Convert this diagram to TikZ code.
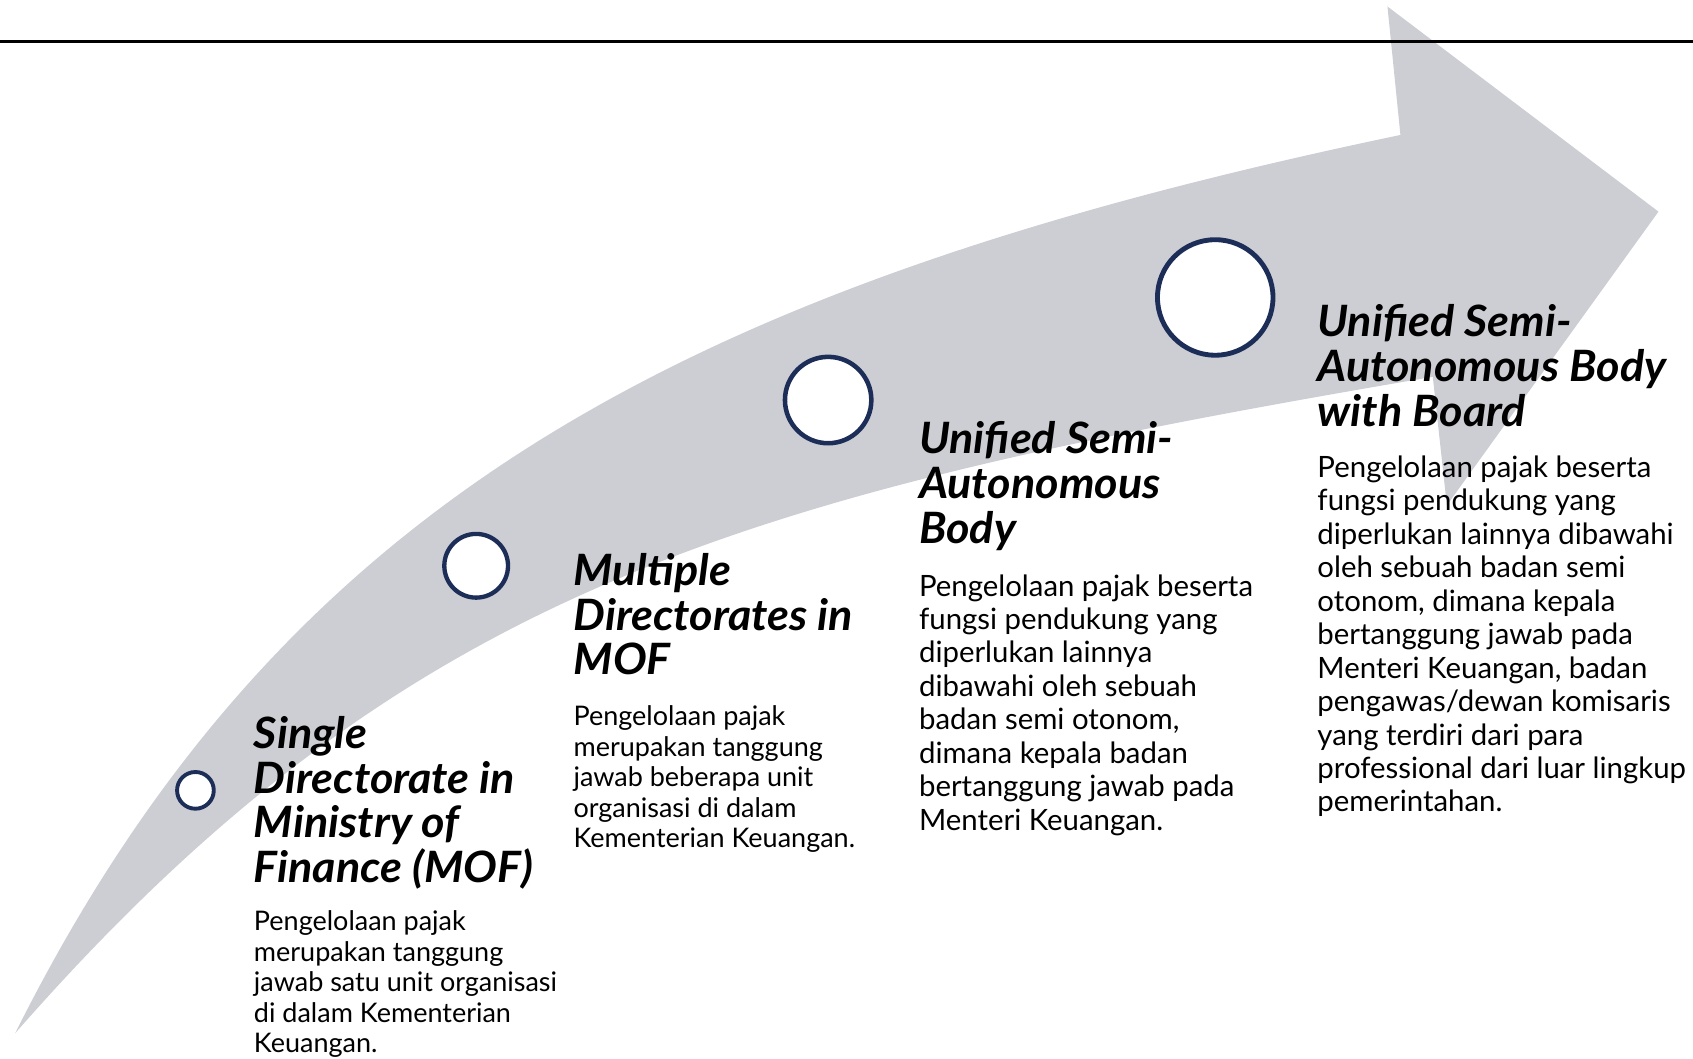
\documentclass[tikz,border=0pt]{standalone}
\usepackage{fontspec}
\setmainfont{Lato}
\newfontfamily\headfont[FakeStretch=1.04]{Lato}
\definecolor{arrowgray}{RGB}{205,206,211}
\definecolor{navy}{RGB}{28,45,88}
\newcommand\stack[2]{\vtop{\baselineskip=#1\relax\lineskiplimit=-100pt\lineskip=0pt #2}}
\begin{document}
\begin{tikzpicture}[x=1pt,y=-1pt,
  stage/.style={circle, draw=navy, fill=white, inner sep=0pt},
  head/.style={anchor=base west, inner sep=0pt, font=\headfont\bfseries\itshape\fontsize{40}{41.5}\selectfont},
  bodysmall/.style={anchor=base west, inner sep=0pt, font=\fontsize{25}{28.3}\selectfont},
  bodylarge/.style={anchor=base west, inner sep=0pt, font=\fontsize{27.2}{31}\selectfont},
]
\useasboundingbox (0,0) rectangle (1568,980);
% arrow
\fill[arrowgray] (14,957) .. controls (260,465) and (632,264) .. (1297,125)
  -- (1285,6) -- (1536,196) -- (1340,468) -- (1327,349)
  .. controls (686,458) and (376.5,543.4) .. (14,957) -- cycle;
% top rule
\draw[line width=2.6pt] (0,38.5) -- (1568,38.5);
% stage circles
\node[stage, line width=3.6pt, minimum size=34pt] (c1) at (181,732) {};
\node[stage, line width=4pt, minimum size=59pt] (c2) at (441,524) {};
\node[stage, line width=4.2pt, minimum size=80pt] (c3) at (767,370.5) {};
\node[stage, line width=4.5pt, minimum size=107pt] (c4) at (1125.5,275.5) {};
% headings
\node[head] (h1) at (235,693) {\stack{41.5pt}{\hbox{Single}\hbox{Directorate in}\hbox{Ministry of}\hbox{Finance (MOF)}}};
\node[head] (h2) at (531,542) {\stack{41.5pt}{\hbox{Multiple}\hbox{Directorates in}\hbox{MOF}}};
\node[head] (h3) at (851,420) {\stack{41.5pt}{\hbox{Unified Semi-}\hbox{Autonomous}\hbox{Body}}};
\node[head] (h4) at (1220,312) {\stack{41.5pt}{\hbox{Unified Semi-}\hbox{Autonomous Body}\hbox{with Board}}};
% bodies
\node[bodysmall] (b1) at (235,862) {\stack{28.3pt}{\hbox{Pengelolaan pajak}\hbox{merupakan tanggung}\hbox{jawab satu unit organisasi}\hbox{di dalam Kementerian}\hbox{Keuangan.}}};
\node[bodysmall] (b2) at (531,672) {\stack{28.3pt}{\hbox{Pengelolaan pajak}\hbox{merupakan tanggung}\hbox{jawab beberapa unit}\hbox{organisasi di dalam}\hbox{Kementerian Keuangan.}}};
\node[bodylarge] (b3) at (851,552) {\stack{31pt}{\hbox{Pengelolaan pajak beserta}\hbox{fungsi pendukung yang}\hbox{diperlukan lainnya}\hbox{dibawahi oleh sebuah}\hbox{badan semi otonom,}\hbox{dimana kepala badan}\hbox{bertanggung jawab pada}\hbox{Menteri Keuangan.}}};
\node[bodylarge] (b4) at (1220,442) {\stack{31pt}{\hbox{Pengelolaan pajak beserta}\hbox{fungsi pendukung yang}\hbox{diperlukan lainnya dibawahi}\hbox{oleh sebuah badan semi}\hbox{otonom, dimana kepala}\hbox{bertanggung jawab pada}\hbox{Menteri Keuangan, badan}\hbox{pengawas/dewan komisaris}\hbox{yang terdiri dari para}\hbox{professional dari luar lingkup}\hbox{pemerintahan.}}};
\end{tikzpicture}
\end{document}
